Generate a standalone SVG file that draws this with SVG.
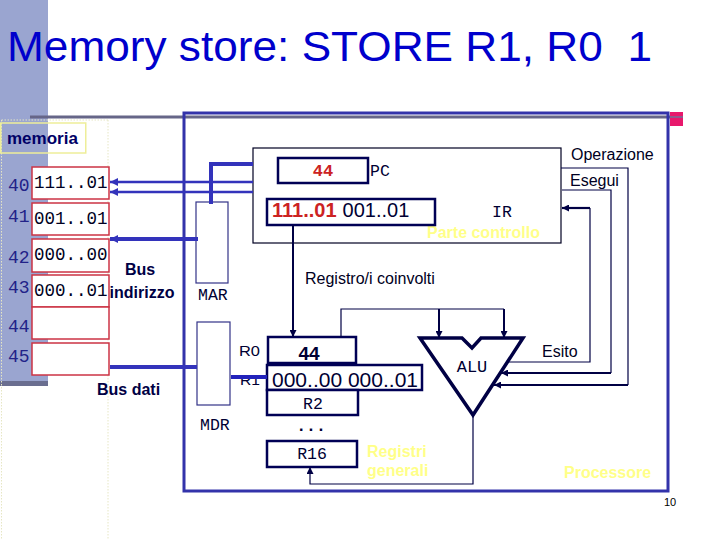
<svg xmlns="http://www.w3.org/2000/svg" width="720" height="540" viewBox="0 0 720 540">
<style>
.sans{font-family:"Liberation Sans",Arial,sans-serif}
.mono{font-family:"Liberation Mono","Courier New",monospace}
.lbl{font-family:"Liberation Sans",Arial,sans-serif;font-size:16px;fill:#000022}
.yel{font-family:"Liberation Sans",Arial,sans-serif;font-weight:bold;font-size:16px;fill:#FFFF88}
.cell{fill:#FFFFFF;stroke:#CC3344;stroke-width:1.5}
.addr{font-family:"Liberation Mono","Courier New",monospace;font-size:18px;fill:#222288}
.ctext{font-family:"Liberation Mono","Courier New",monospace;font-size:17.5px;fill:#000022}
.reg{fill:#FFFFFF;stroke:#000055;stroke-width:2.5}
.thin{fill:#FFFFFF;stroke:#333388;stroke-width:1.2}
.mt{font-family:"Liberation Mono","Courier New",monospace;font-size:16.5px;fill:#000033}
.bus{fill:none;stroke:#3333BB}
.nv{fill:none;stroke:#000044}
</style>
<defs>
<marker id="ab" viewBox="0 0 10 10" refX="10" refY="5" markerWidth="9" markerHeight="8" markerUnits="userSpaceOnUse" orient="auto"><path d="M0,0 L10,5 L0,10 Z" fill="#3333BB"/></marker>
<marker id="an" viewBox="0 0 10 10" refX="10" refY="5" markerWidth="7" markerHeight="7" markerUnits="userSpaceOnUse" orient="auto"><path d="M0,0 L10,5 L0,10 Z" fill="#000044"/></marker>
</defs>
<rect width="720" height="540" fill="#FFFFFF"/>
<g id="template">
<rect x="0" y="0" width="48" height="384" fill="#9AA5D0"/>
<rect x="0" y="381" width="48" height="5" fill="#6A6E90"/>
<line x1="30" y1="117" x2="683" y2="117" stroke="#666688" stroke-width="3"/>
<rect x="670" y="112" width="13" height="14" fill="#E8186C"/>
<line x1="670" y1="117" x2="683" y2="117" stroke="#8E5A8E" stroke-width="2"/>
<path d="M1.5,120 V540 M1.5,120 H108 M108,120 V540" fill="none" stroke="#E6E6C4" stroke-width="1" stroke-dasharray="1.5,1.5"/>
</g>
<text x="7" y="61" class="sans" font-size="43" fill="#0000CC" textLength="645" lengthAdjust="spacingAndGlyphs" xml:space="preserve">Memory store: STORE R1, R0  1</text>
<g id="memoria">
<rect x="0.75" y="123" width="85" height="30" fill="none" stroke="#EEEE99" stroke-width="1.5"/>
<text x="7" y="144" class="sans" font-weight="bold" font-size="17" fill="#000066">memoria</text>
</g>
<g id="mem40"><rect class="cell" x="32" y="167" width="77" height="32"/><text class="addr" x="8" y="191">40</text><text class="ctext" x="34" y="188">111..01</text></g>
<g id="mem41"><rect class="cell" x="32" y="203" width="77" height="32"/><text class="addr" x="8" y="222">41</text><text class="ctext" x="34" y="224">001..01</text></g>
<g id="mem42"><rect class="cell" x="32" y="239" width="77" height="33"/><text class="addr" x="8" y="263">42</text><text class="ctext" x="34" y="260">000..00</text></g>
<g id="mem43"><rect class="cell" x="32" y="275" width="77" height="32"/><text class="addr" x="8" y="293">43</text><text class="ctext" x="34" y="296">000..01</text></g>
<g id="mem44"><rect class="cell" x="32" y="307" width="77" height="32"/><text class="addr" x="8" y="332">44</text></g>
<g id="mem45"><rect class="cell" x="32" y="343" width="77" height="32"/><text class="addr" x="8" y="362">45</text></g>
<g id="processore">
<rect x="184" y="113" width="484" height="378" fill="none" stroke="#3333AA" stroke-width="3"/>
<text x="564" y="478" class="yel" font-size="16.5">Processore</text>
</g>
<g id="parte-controllo">
<rect x="253" y="148" width="308" height="95" fill="#FFFFFF" stroke="#000022" stroke-width="1.2"/>
<text x="492" y="217" class="mt">IR</text>
<text x="427" y="238" class="yel">Parte controllo</text>
</g>
<g id="pc">
<rect class="reg" x="278" y="158" width="90" height="25"/>
<text x="323" y="176" class="mono" font-weight="bold" font-size="17" fill="#CC2222" text-anchor="middle">44</text>
<text x="370" y="176" class="mt">PC</text>
</g>
<g id="ir">
<rect class="reg" x="267" y="199" width="168" height="26"/>
<text x="272" y="217" class="sans" font-size="20"><tspan font-weight="bold" fill="#CC2222">111..01</tspan><tspan fill="#000033" dx="6">001..01</tspan></text>
</g>
<g id="mar">
<rect class="thin" x="196" y="202" width="32" height="81"/>
<text x="198" y="300" class="mt">MAR</text>
</g>
<g id="mdr">
<rect class="thin" x="197" y="322" width="33" height="83"/>
<text x="200" y="430" class="mt">MDR</text>
</g>
<g id="r0">
<rect class="reg" x="268" y="337" width="88" height="26"/>
<text x="309" y="360" class="sans" font-weight="bold" font-size="19" fill="#000033" text-anchor="middle">44</text>
<text x="239" y="356" class="sans" font-size="14.5" fill="#000033" textLength="21" lengthAdjust="spacingAndGlyphs">R0</text>
</g>
<g id="r1">
<text x="240" y="385" class="sans" font-size="14.5" fill="#000033" textLength="20" lengthAdjust="spacingAndGlyphs">R1</text>
<rect class="reg" x="267" y="365" width="155" height="25" stroke-width="3"/>
<text x="272" y="387" class="sans" font-size="20" fill="#000033" textLength="146" lengthAdjust="spacingAndGlyphs">000..00 000..01</text>
</g>
<g id="r2">
<rect class="reg" x="267" y="390" width="91" height="25"/>
<text x="313" y="409" class="mt" text-anchor="middle">R2</text>
</g>
<text x="311" y="431" class="mt" font-weight="bold" text-anchor="middle">...</text>
<g id="r16">
<rect class="reg" x="267" y="441" width="90" height="26"/>
<text x="312" y="459" class="mt" text-anchor="middle">R16</text>
</g>
<g id="registri-generali">
<text x="367" y="457" class="yel">Registri</text>
<text x="367" y="476" class="yel">generali</text>
</g>
<g id="alu">
<path d="M420,338 L462,338 L472,348 L481,338 L523,338 L473,415 Z" fill="#FFFFFF" stroke="#000044" stroke-width="3.5" stroke-linejoin="miter"/>
<text x="472" y="372" class="mono" font-size="17" fill="#000033" text-anchor="middle">ALU</text>
</g>
<g id="connectors">
<path class="bus" d="M253,164 H211 V204" stroke-width="4"/>
<path class="bus" d="M253,182 H110" stroke-width="2.5" marker-end="url(#ab)"/>
<path class="bus" d="M253,192 H110" stroke-width="2.5" marker-end="url(#ab)"/>
<path class="bus" d="M198,239 H110" stroke-width="4" marker-end="url(#ab)"/>
<path class="bus" d="M110,367 H197" stroke-width="4"/>
<path d="M231,377 H267" fill="none" stroke="#2222BB" stroke-width="4"/>
<path class="nv" d="M293,225 V337" stroke-width="2" marker-end="url(#an)"/>
<path class="nv" d="M341,337 V309 H504" stroke-width="1.2"/>
<path class="nv" d="M439,309 V338" stroke-width="2" marker-end="url(#an)"/>
<path class="nv" d="M504,309 V338" stroke-width="2" marker-end="url(#an)"/>
<path class="nv" d="M473,415 V484 H310 V467" stroke-width="1.2" marker-end="url(#an)"/>
<path class="nv" d="M561,168 H628 V385" stroke-width="1.2"/>
<path class="nv" d="M628,385 H494" stroke-width="2.2" marker-end="url(#an)"/>
<path class="nv" d="M562,190 H611 V373" stroke-width="1.2"/>
<path class="nv" d="M611,373 H501" stroke-width="2.2" marker-end="url(#an)"/>
<path class="nv" d="M508,362 H590 V208" stroke-width="1.2"/>
<path class="nv" d="M590,208 H562" stroke-width="2.2" marker-end="url(#an)"/>
</g>
<g id="labels">
<text x="140" y="275" class="sans" font-weight="bold" font-size="16" fill="#000044" text-anchor="middle">Bus</text>
<text x="142" y="298" class="sans" font-weight="bold" font-size="16" fill="#000044" text-anchor="middle">indirizzo</text>
<text x="97" y="395" class="sans" font-weight="bold" font-size="16" fill="#000044">Bus dati</text>
<text x="571" y="160" class="lbl">Operazione</text>
<text x="570" y="186" class="lbl">Esegui</text>
<text x="305" y="284" class="lbl">Registro/i coinvolti</text>
<text x="542" y="357" class="lbl" font-size="15.5">Esito</text>
<text x="664" y="506" class="sans" font-size="11" fill="#000000">10</text>
</g>
</svg>
